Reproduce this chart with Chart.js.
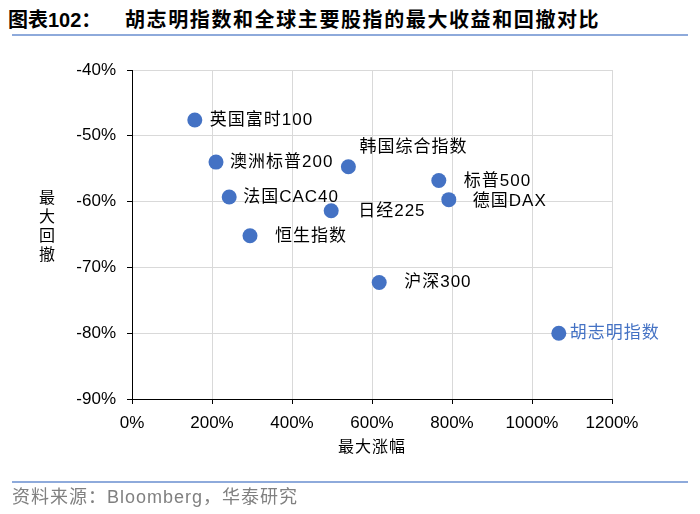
<!DOCTYPE html>
<html>
<head>
<meta charset="utf-8">
<script src="https://cdn.jsdelivr.net/npm/chart.js@4"></script>
<style>
  body { margin: 0; background: #fff; }
  #wrap { position: relative; width: 700px; height: 514px; overflow: hidden; background: #fff;
          font-family: "Liberation Sans", "Noto Sans CJK SC", sans-serif; }
  #chart { position: absolute; left: 0; top: 0; }
  .title { position: absolute; top: 7px; font-size: 20px; font-weight: bold; color: #000;
           font-family: "Liberation Sans", "Noto Sans CJK SC", sans-serif; line-height: 26px; white-space: nowrap; }
  .rule { position: absolute; left: 12px; width: 676px; height: 2px; background: #8EAADB; }
  #source { position: absolute; left: 12px; top: 486px; font-size: 18px; color: #808080; line-height: 22px;
            white-space: nowrap; letter-spacing: 1px; }
  #ytitle { position: absolute; left: 38px; top: 187px; width: 18px; font-size: 16px; line-height: 19px;
            text-align: center; color: #000; font-family: "Noto Sans CJK SC", sans-serif; }
  #xtitle { position: absolute; left: 332px; top: 434px; width: 80px; font-size: 16px; line-height: 22px;
            text-align: center; color: #000; font-family: "Noto Sans CJK SC", sans-serif; letter-spacing: 1px; }
</style>
</head>
<body>
<div id="wrap">
  <div class="title" style="left:8px">图表102：</div>
  <div class="title" style="left:125px; letter-spacing:1.6px">胡志明指数和全球主要股指的最大收益和回撤对比</div>
  <div class="rule" style="top:34px"></div>
  <canvas id="chart" width="700" height="514"></canvas>
  <div id="ytitle">最<br>大<br>回<br>撤</div>
  <div id="xtitle">最大涨幅</div>
  <div class="rule" style="top:481px"></div>
  <div id="source">资料来源：Bloomberg，华泰研究</div>
</div>
<script>
// index names and values (percent)
const names = ["英国富时100", "澳洲标普200", "法国CAC40", "恒生指数", "韩国综合指数",
               "日经225", "标普500", "德国DAX", "沪深300", "胡志明指数"];
const maxGain = [157, 210, 243, 295, 541, 498, 767, 792, 618, 1067];
const maxDrawdown = [-47.6, -54.0, -59.3, -65.2, -54.7, -61.4, -56.8, -59.7, -72.3, -80.0];

const xTicks = [0, 200, 400, 600, 800, 1000, 1200];
const yTicks = [-90, -80, -70, -60, -50, -40];

// label placement relative to each point (px)
const labelDx = [15, 14, 14, 25, 11, 27, 25, 24, 25, 11];
const labelDy = [0, 0, 0, 0, -19, 1, 1, 2, 0, 0];

const blue = "#4472C4";
const labelFont = '17px "Liberation Sans", "Noto Sans CJK SC", sans-serif';

const points = maxGain.map((g, i) => ({ x: g, y: maxDrawdown[i] }));

// draws the name next to each dot
const pointLabels = {
    id: "pointLabels",
    afterDatasetsDraw(chart) {
        const ctx = chart.ctx;
        const meta = chart.getDatasetMeta(0);
        ctx.save();
        ctx.font = labelFont;
        ctx.letterSpacing = "1px";
        ctx.textAlign = "left";
        ctx.textBaseline = "middle";
        meta.data.forEach((pt, i) => {
            ctx.fillStyle = names[i] === "胡志明指数" ? blue : "#000";
            ctx.fillText(names[i], pt.x + labelDx[i], pt.y + labelDy[i]);
        });
        ctx.restore();
    }
};

new Chart(document.getElementById("chart").getContext("2d"), {
    type: "scatter",
    data: {
        datasets: [{
            data: points,
            backgroundColor: blue,
            borderWidth: 0,
            pointRadius: 7.5,
            pointHoverRadius: 7.5
        }]
    },
    options: {
        responsive: false,
        animation: false,
        devicePixelRatio: 1,
        layout: { padding: { left: 0, right: 88, top: 70, bottom: 0 } },
        plugins: {
            legend: { display: false },
            tooltip: { enabled: false }
        },
        scales: {
            x: {
                type: "linear",
                min: xTicks[0],
                max: xTicks[xTicks.length - 1],
                afterBuildTicks: (scale) => { scale.ticks = xTicks.map(v => ({ value: v })); },
                afterFit: (scale) => { scale.height = 115; },
                ticks: {
                    padding: 9,
                    color: "#000",
                    font: { family: '"Liberation Sans", sans-serif', size: 17 },
                    callback: (v) => v + "%"
                },
                grid: { color: "#D9D9D9", lineWidth: 1, tickLength: 5, tickColor: "#000" },
                border: { color: "#000", width: 1 }
            },
            y: {
                type: "linear",
                min: yTicks[0],
                max: yTicks[yTicks.length - 1],
                afterBuildTicks: (scale) => { scale.ticks = yTicks.map(v => ({ value: v })); },
                afterFit: (scale) => { scale.width = 132; },
                ticks: {
                    padding: 11,
                    color: "#000",
                    font: { family: '"Liberation Sans", sans-serif', size: 17 },
                    callback: (v) => v + "%"
                },
                grid: { color: "#D9D9D9", lineWidth: 1, tickLength: 5, tickColor: "#000" },
                border: { color: "#000", width: 1 }
            }
        }
    },
    plugins: [pointLabels]
});
</script>
</body>
</html>
